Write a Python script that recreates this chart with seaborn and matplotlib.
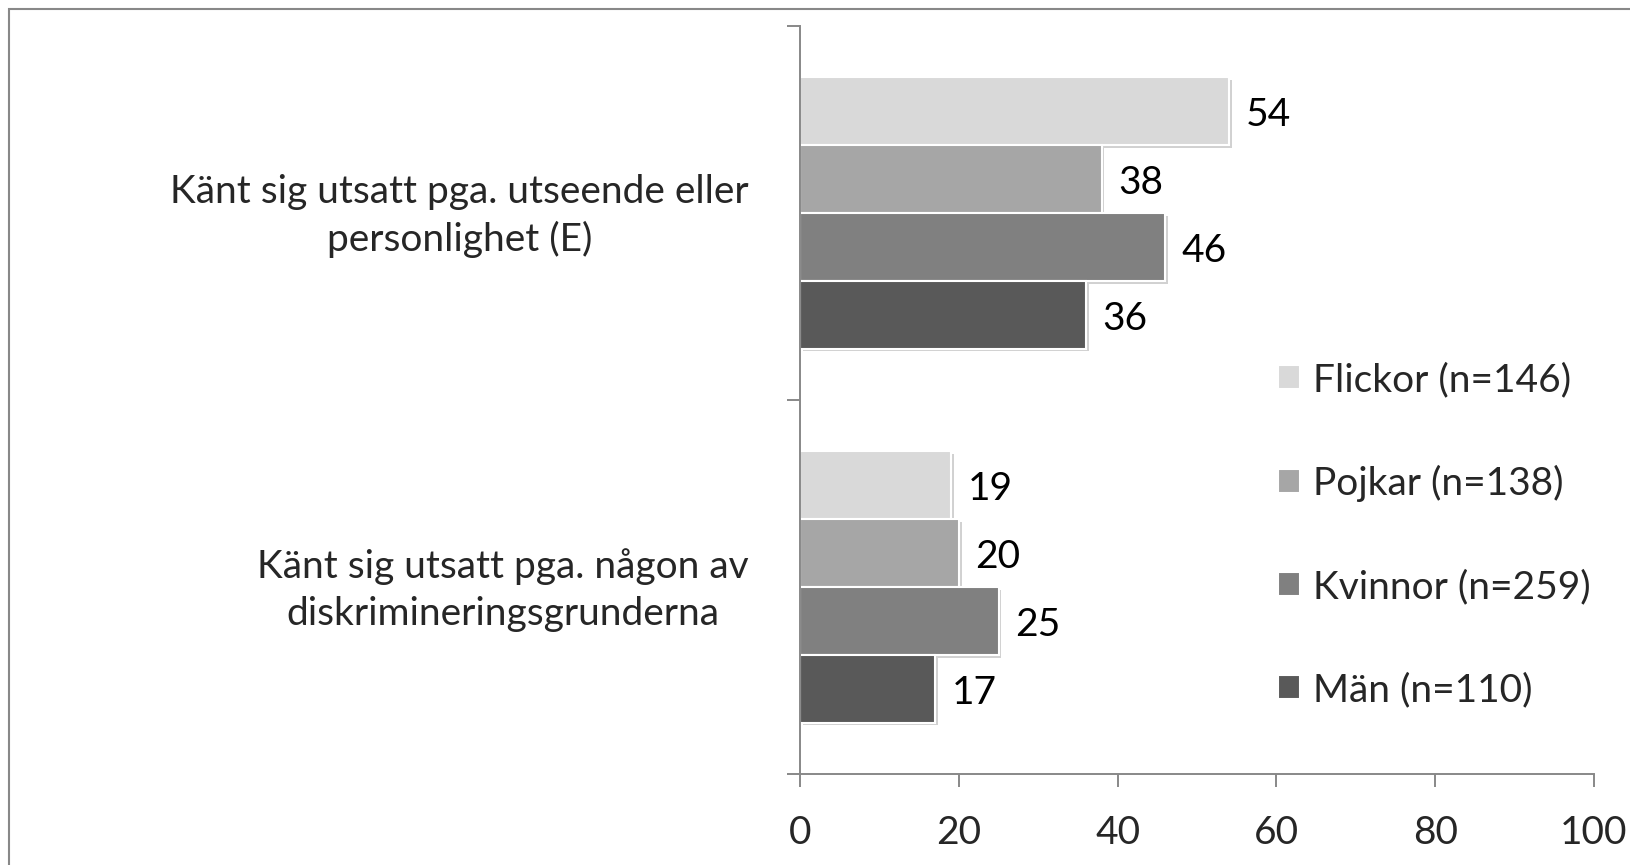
import matplotlib
matplotlib.use("Agg")
import matplotlib.pyplot as plt
import matplotlib.patheffects as pe
from matplotlib.patches import Rectangle
from matplotlib.transforms import ScaledTranslation
import seaborn as sns
import pandas as pd

categories = ["Känt sig utsatt pga. utseende eller\npersonlighet (E)",
              "Känt sig utsatt pga. någon av\ndiskrimineringsgrunderna"]
groups = ["Flickor (n=146)", "Pojkar (n=138)", "Kvinnor (n=259)", "Män (n=110)"]
flickor = [54, 19]
pojkar = [38, 20]
kvinnor = [46, 25]
man = [36, 17]
xticks = [0, 20, 40, 60, 80, 100]
colors = ["#d9d9d9", "#a6a6a6", "#808080", "#595959"]

rows = []
for g, vals in zip(groups, [flickor, pojkar, kvinnor, man]):
    for c, v in zip(categories, vals):
        rows.append({"category": c, "group": g, "value": v})
df = pd.DataFrame(rows)

sns.set_theme(style="white")
plt.rcParams["font.family"] = ["Lato", "DejaVu Sans"]
FS = 28

fig = plt.figure(figsize=(16.3, 8.65), dpi=100)
ax = fig.add_axes([800/1630, 1-774/865, 794/1630, 748/865])

sns.barplot(data=df, y="category", x="value", hue="group", palette=colors,
            orient="h", width=0.725, edgecolor="white", linewidth=1.5,
            ax=ax, errorbar=None, saturation=1)

for cont in ax.containers:
    for p in cont:
        p.set_path_effects([pe.SimplePatchShadow(offset=(2, -2), shadow_rgbFace="black", alpha=0.18),
                            pe.Normal()])
    texts = ax.bar_label(cont, fmt="%d", padding=12, fontsize=FS, color="black")
    for t in texts:
        t.xyann = (12, -3)

ax.set_xlim(0, 100)
ax.set_ylim(1.5, -0.5)
ax.set_xticks(xticks)
ax.set_xticklabels([str(t) for t in xticks], fontsize=FS)
ax.set_yticks([0, 1])
ax.set_yticklabels(categories, fontsize=FS, ha="right", multialignment="center",
                   linespacing=1.37)
ax.set_yticks([-0.5, 0.5, 1.5], minor=True)
ax.tick_params(axis="y", which="major", length=0, pad=37)
ax.tick_params(axis="y", which="minor", length=9.5, width=1.4, color="#888888", direction="out", left=True)
ax.tick_params(axis="x", which="major", length=9.5, width=1.4, color="#888888", direction="out",
               bottom=True, pad=20)
up = ScaledTranslation(0, 6/100, fig.dpi_scale_trans)
for tick in ax.yaxis.get_major_ticks():
    tick.label1.set_transform(tick.label1.get_transform() + up)
ax.set_xlabel("")
ax.set_ylabel("")
for s in ["top", "right"]:
    ax.spines[s].set_visible(False)
for s in ["left", "bottom"]:
    ax.spines[s].set_color("#888888")
    ax.spines[s].set_linewidth(1.4)

handles, labels = ax.get_legend_handles_labels()
leg = ax.legend(handles, labels, loc="center left", bbox_to_anchor=(1278/1630, 1-535/865),
                bbox_transform=fig.transFigure, frameon=False, fontsize=FS, borderpad=0,
                borderaxespad=0, handlelength=0.57, handleheight=0.57, handletextpad=0.33,
                labelspacing=1.72)

fig.patches.append(Rectangle((9/1630, -0.1), 1.2, 1-9/865+0.1, transform=fig.transFigure,
                             fill=False, edgecolor="#888888", linewidth=1.5, zorder=10))

fig.savefig("out.png", dpi=100)
